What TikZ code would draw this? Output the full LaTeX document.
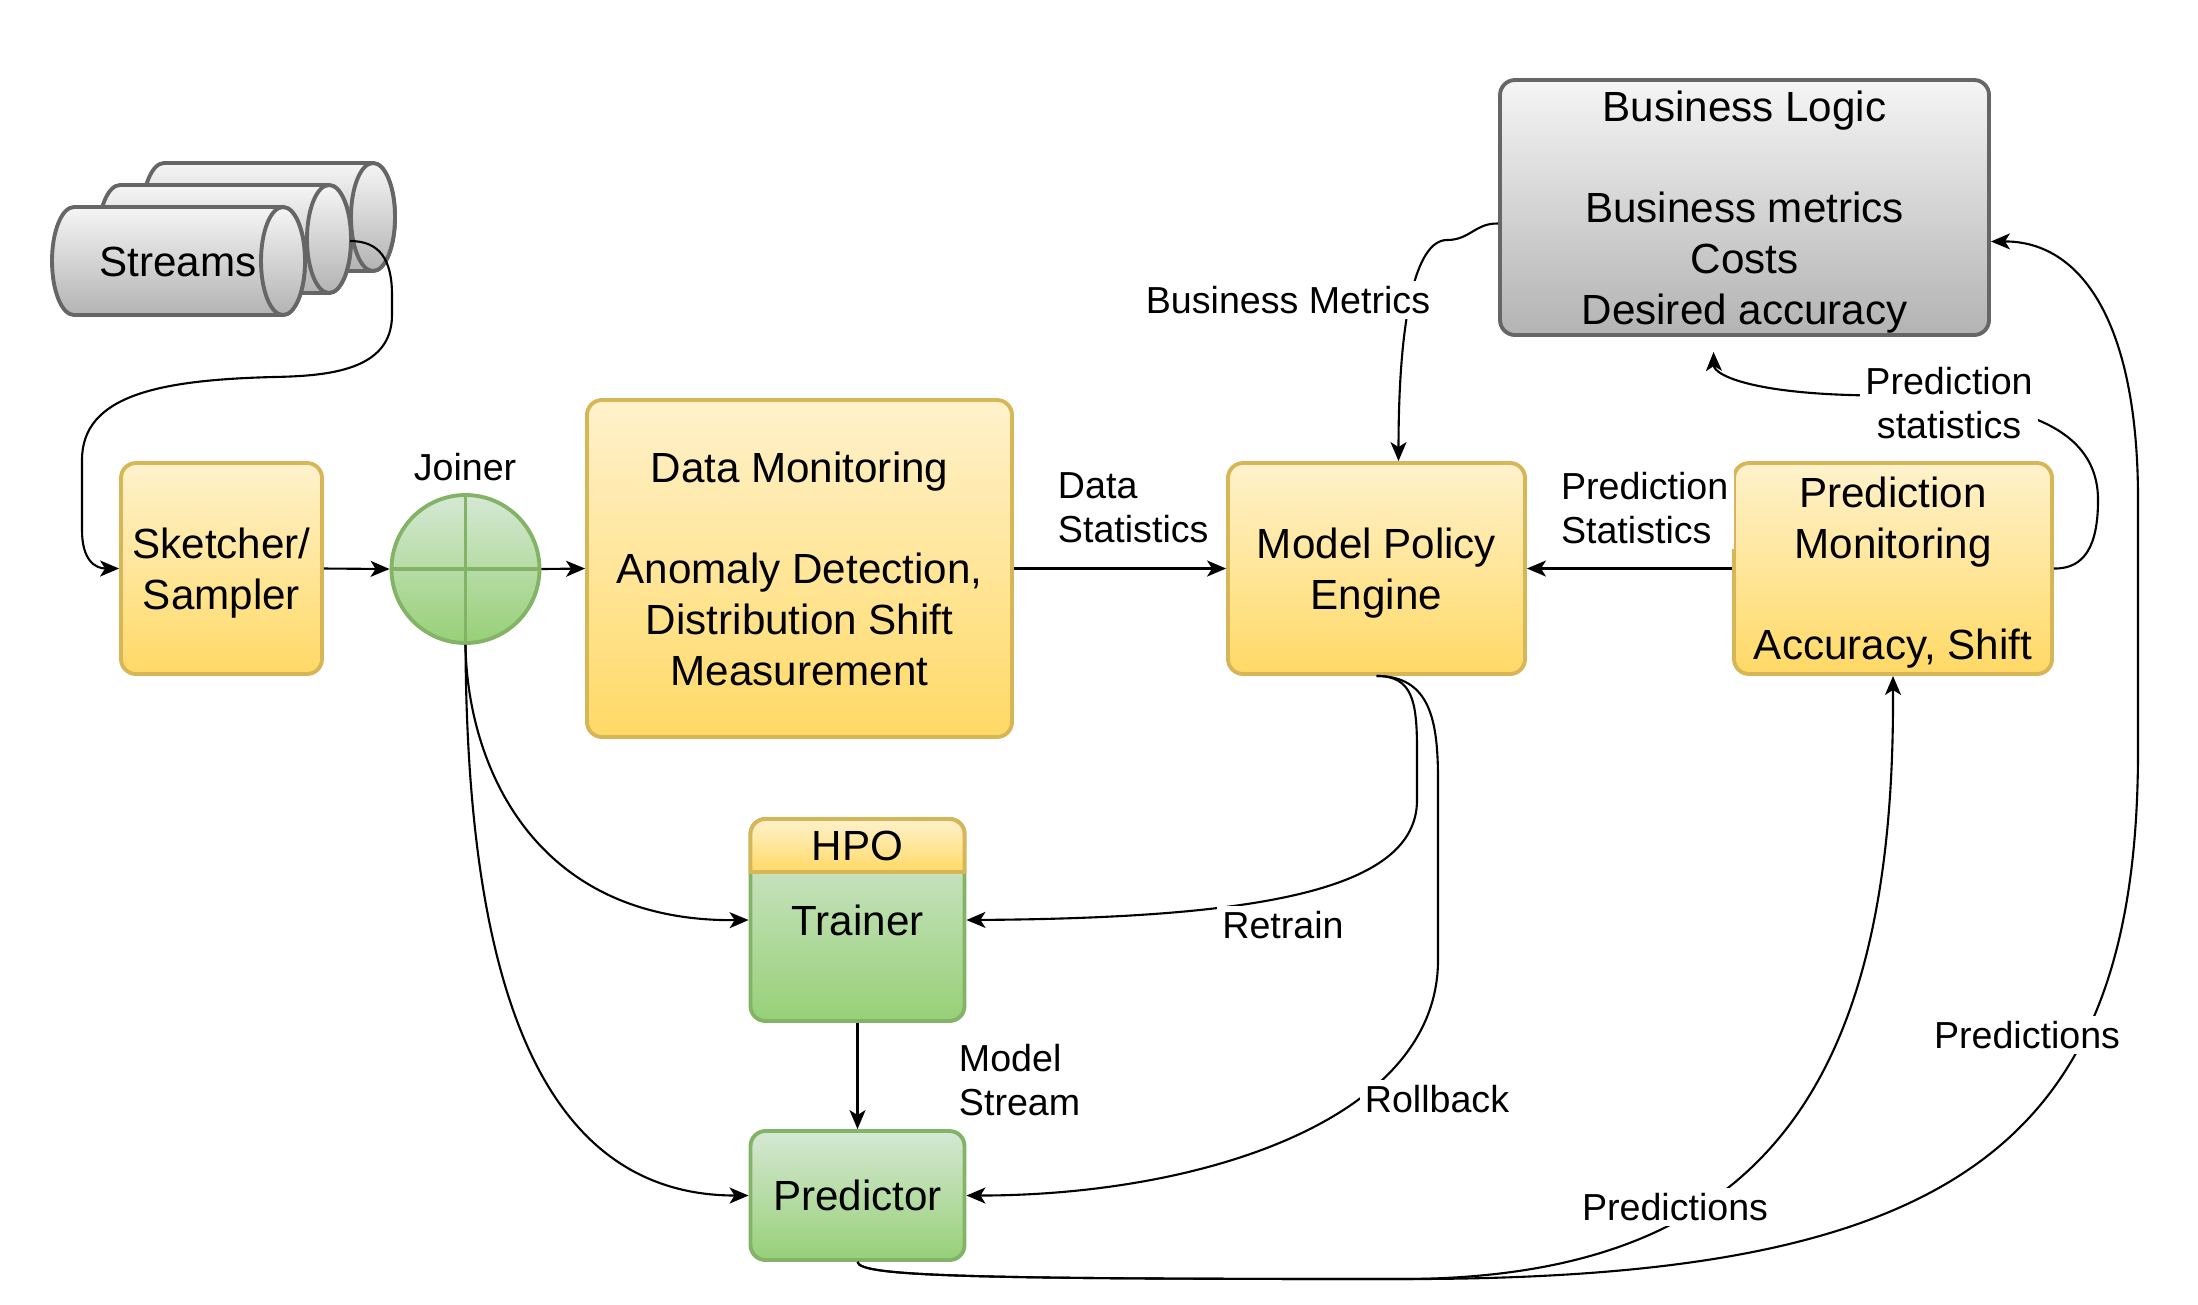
\documentclass[tikz,border=0pt]{standalone}
\usepackage{fontspec}
\setmainfont{Liberation Sans}
\usepackage{xcolor}
\usepackage{tikz}
\usetikzlibrary{arrows.meta}

\definecolor{ytop}{HTML}{FFF2CC}
\definecolor{ybot}{HTML}{FFD966}
\definecolor{yline}{HTML}{D6B656}
\definecolor{gtop}{HTML}{D5E8D4}
\definecolor{gbot}{HTML}{97D077}
\definecolor{gline}{HTML}{82B366}
\definecolor{ktop}{HTML}{F5F5F5}
\definecolor{kbot}{HTML}{B3B3B3}
\definecolor{kline}{HTML}{666666}

\newcommand{\boxfont}{\fontsize{12}{14.4}\selectfont}
\newcommand{\lblfont}{\fontsize{10.7}{12.6}\selectfont}

\begin{document}
\begin{tikzpicture}[
        every node/.style={align=center, inner sep=0pt},
        ybox/.style={draw=yline, line width=1.1pt, rounded corners=0.15cm, top color=ytop, bottom color=ybot, font=\boxfont, text depth=0pt},
        gbox/.style={draw=gline, line width=1.1pt, rounded corners=0.15cm, top color=gtop, bottom color=gbot, font=\boxfont, text depth=0pt},
        kbox/.style={draw=kline, line width=1.1pt, rounded corners=0.15cm, top color=ktop, bottom color=kbot, font=\boxfont, text depth=0pt},
        cyl/.style={draw=kline, line width=1.1pt, top color=ktop, bottom color=kbot},
        lbl/.style={font=\lblfont, fill=white, inner sep=1.5pt},
        conn/.style={line width=0.6pt, -{Stealth[length=0.19cm, width=0.16cm, inset=0.05cm]}}
    ]
    \useasboundingbox (0,0) rectangle (21.98,-13.04);

    % Streams (three cylinders, back to front)
    \foreach \dx/\dy in {0.90/0.44, 0.46/0.22, 0/0} {
        \begin{scope}[shift={(\dx,\dy)}]
            \draw[cyl] (0.74,-2.07) -- (2.83,-2.07) arc[start angle=90, end angle=-90, x radius=0.22, y radius=0.54]
                -- (0.74,-3.15) arc[start angle=270, end angle=90, x radius=0.22, y radius=0.54] -- cycle;
            \draw[cyl] (2.83,-2.61) ellipse[x radius=0.22, y radius=0.54];
        \end{scope}
    }
    \node[font=\boxfont] (streams) at (1.78,-2.62) {Streams};
    \coordinate (streamout) at (3.50,-2.41);

    % Boxes
    \node[ybox, minimum width=2.01cm, minimum height=2.11cm] (sketcher) at (2.215,-5.685) {Sketcher/\\Sampler};
    \node[circle, draw=gline, line width=1.1pt, top color=gtop, bottom color=gbot, minimum size=1.48cm,
        path picture={\draw[gline, line width=1.1pt] (path picture bounding box.north) -- (path picture bounding box.south)
            (path picture bounding box.west) -- (path picture bounding box.east);}] (joiner) at (4.655,-5.69) {};
    \node[font=\lblfont] (joinerlbl) at (4.65,-4.67) {Joiner};
    \node[ybox, minimum width=4.25cm, minimum height=3.37cm] (datamon) at (7.995,-5.685)
        {Data Monitoring\\[14.4pt]Anomaly Detection,\\Distribution Shift\\Measurement};
    \node[ybox, minimum width=2.97cm, minimum height=2.11cm] (policy) at (13.765,-5.685) {Model Policy\\Engine};
    \node[ybox, minimum width=3.18cm, minimum height=2.11cm] (predmon) at (18.93,-5.685)
        {Prediction\\Monitoring\\[14.4pt]Accuracy, Shift};
    \node[kbox, minimum width=4.89cm, minimum height=2.55cm] (business) at (17.445,-2.075)
        {Business Logic\\[14.4pt]Business metrics\\Costs\\Desired accuracy};

    % Trainer with HPO header
    \node[gbox, minimum width=2.14cm, minimum height=2.02cm] (trainer) at (8.575,-9.20) {Trainer};
    \draw[draw=yline, line width=1.1pt, top color=ytop, bottom color=ybot] (7.505,-8.72) -- (7.505,-8.34)
        arc[start angle=180, end angle=90, radius=0.15] -- (9.495,-8.19)
        arc[start angle=90, end angle=0, radius=0.15] -- (9.645,-8.72) -- cycle;
    \node[font=\boxfont] (hpo) at (8.575,-8.455) {HPO};
    \node[gbox, minimum width=2.14cm, minimum height=1.29cm] (predictor) at (8.575,-11.955) {Predictor};

    % Connectors
    \draw[conn] (streamout) .. controls (3.80,-2.41) and (3.92,-2.60) .. (3.92,-2.95) -- (3.92,-3.15)
        .. controls (3.92,-3.70) and (3.30,-3.76) .. (2.73,-3.77)
        .. controls (1.60,-3.80) and (0.82,-3.95) .. (0.82,-4.60) -- (0.82,-5.30)
        .. controls (0.82,-5.60) and (0.95,-5.685) .. (sketcher.west);
    \draw[conn] (sketcher.east) -- (joiner.west);
    \draw[conn] (joiner.east) -- (datamon.west);
    \draw[conn] (datamon.east) -- (policy.west);
    \draw[conn] (predmon.west) -- (policy.east);
    \draw[conn] (trainer.south) -- (predictor.north);
    \draw[conn] (joiner.south) .. controls (4.67,-7.6) and (5.3,-9.22) .. (trainer.west);
    \draw[conn] (joiner.south) .. controls (4.67,-9.6) and (5.3,-11.955) .. (predictor.west);
    \draw[conn] ([yshift=-0.16cm]business.west) .. controls (14.75,-2.23) and (14.70,-2.40) .. (14.47,-2.40)
        .. controls (14.15,-2.40) and (13.985,-3.2) .. ([xshift=0.22cm]policy.north);
    \draw[conn] (predmon.east) .. controls (20.85,-5.69) and (20.98,-5.45) .. (20.98,-5.0)
        .. controls (20.98,-4.0) and (19.5,-3.98) .. (18.5,-3.95)
        .. controls (17.5,-3.92) and (17.14,-3.75) .. ([xshift=-0.31cm, yshift=-0.15cm]business.south);
    \draw[conn] (policy.south) .. controls (14.12,-6.76) and (14.17,-7.0) .. (14.17,-7.5) -- (14.17,-8.0)
        .. controls (14.17,-8.9) and (12.6,-9.18) .. (trainer.east);
    \draw[conn] (policy.south) .. controls (14.3,-6.76) and (14.38,-7.2) .. (14.38,-7.8) -- (14.38,-9.6)
        .. controls (14.38,-11.2) and (12.0,-11.955) .. (predictor.east);
    \draw[conn] (predictor.south) .. controls (8.6,-12.76) and (9.6,-12.79) .. (14.0,-12.79)
        .. controls (17.5,-12.79) and (18.93,-11.0) .. (18.93,-7.0) -- (predmon.south);
    \draw[conn] (predictor.south) .. controls (8.6,-12.76) and (9.6,-12.79) .. (14.0,-12.79)
        .. controls (19.5,-12.8) and (21.38,-11.5) .. (21.38,-7.5) -- (21.38,-5.0)
        .. controls (21.38,-3.2) and (20.8,-2.41) .. ([yshift=-0.34cm]business.east);

    % Connector labels
    \node[lbl, anchor=west, align=left] (datastat) at (10.52,-5.08) {Data\\Statistics};
    \node[lbl, anchor=west, align=left] (predstat) at (15.55,-5.08) {Prediction\\Statistics};
    \node[lbl] (bizmetrics) at (12.88,-3.00) {Business Metrics};
    \node[lbl] (predstatup) at (19.49,-4.03) {Prediction\\statistics};
    \node[lbl] (retrain) at (12.83,-9.25) {Retrain};
    \node[lbl, anchor=west, align=left] (modelstream) at (9.53,-10.80) {Model\\Stream};
    \node[lbl] (rollback) at (14.37,-10.99) {Rollback};
    \node[lbl] (predslow) at (16.75,-12.07) {Predictions};
    \node[lbl] (predsright) at (20.27,-10.35) {Predictions};
\end{tikzpicture}
\end{document}
